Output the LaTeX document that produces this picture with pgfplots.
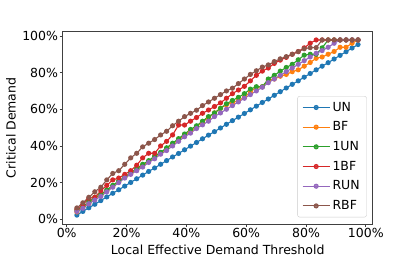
\documentclass[border=0pt]{standalone}
\usepackage{pgfplots}
\pgfplotsset{compat=1.18}
\usepackage{pgfplotstable}
\usepackage{fontspec}
\setmainfont{DejaVu Sans}
\definecolor{cA}{HTML}{1F77B4}
\definecolor{cB}{HTML}{FF7F0E}
\definecolor{cC}{HTML}{2CA02C}
\definecolor{cD}{HTML}{D62728}
\definecolor{cE}{HTML}{9467BD}
\definecolor{cF}{HTML}{8C564B}
\pgfplotstableread{
x    UN   BF   UNa  BFa  RUN  RBF
3.4  2.3  4.0  5.0  5.5  4.3  6.2
5.4  4.3  6.5  7.0  8.0  6.0  9.0
7.4  6.3  8.5  9.5  11.5 8.5  12.0
9.4  8.2  12.0 12.0 12.0 10.5 15.0
11.4 10.2 13.0 13.5 15.5 12.5 17.5
13.4 12.2 15.5 16.0 18.5 15.0 21.5
15.4 14.2 18.0 18.5 21.5 17.5 25.0
17.4 16.1 20.5 21.0 22.5 20.0 26.5
19.4 18.1 23.0 23.0 24.5 22.5 30.0
21.4 20.1 25.0 25.5 26.5 24.5 33.5
23.4 22.1 27.0 27.5 29.5 26.5 36.0
25.4 24.1 29.5 30.0 33.5 28.5 39.5
27.4 26.1 31.5 32.0 36.0 31.0 41.5
29.4 28.0 34.0 34.5 36.0 33.0 43.5
31.4 30.0 36.0 36.5 40.0 35.5 46.0
33.4 32.0 38.5 39.0 42.5 37.5 48.0
35.4 34.0 41.0 41.5 46.0 40.0 51.0
37.4 35.9 43.5 44.0 51.4 42.5 53.5
39.4 37.9 46.0 46.5 51.4 45.0 56.0
41.4 39.9 48.0 49.0 53.5 47.0 57.8
43.4 41.9 50.5 51.0 55.5 49.5 59.5
45.4 43.9 53.0 53.5 57.8 51.5 62.0
47.4 45.9 55.5 56.0 59.6 53.5 64.0
49.4 47.8 58.0 58.0 61.5 56.0 66.0
51.4 49.8 60.5 60.5 63.5 58.0 68.0
53.4 51.8 62.5 63.0 66.0 60.0 70.0
55.4 53.8 63.5 64.8 68.5 62.0 71.5
57.4 55.7 64.8 66.5 70.5 64.0 74.0
59.4 57.7 66.5 68.5 72.5 66.0 76.5
61.4 59.7 69.5 71.0 75.5 68.0 79.0
63.4 61.7 72.0 72.3 78.5 70.0 81.0
65.4 63.7 72.3 72.3 80.8 72.0 83.0
67.4 65.6 76.0 76.5 82.5 74.5 84.2
69.4 67.6 76.5 78.5 85.0 76.5 86.0
71.4 69.6 78.0 80.8 86.8 78.5 87.5
73.4 71.6 79.0 82.8 88.3 80.5 88.7
75.4 73.6 80.5 84.5 90.0 82.5 90.0
77.4 75.5 81.5 87.0 91.5 84.5 91.4
79.4 77.5 83.5 89.5 93.5 86.5 93.0
81.4 79.5 85.5 90.0 96.0 88.5 93.6
83.4 81.5 87.8 90.0 97.8 90.5 93.6
85.4 83.5 88.5 93.5 97.8 92.0 97.8
87.4 85.4 90.0 97.8 97.8 93.8 97.8
89.4 87.4 91.5 97.8 97.8 96.0 97.8
91.4 89.4 93.8 97.8 97.8 97.8 97.8
93.4 91.4 93.8 97.8 97.8 97.8 97.8
95.4 93.4 96.0 97.8 97.8 97.8 97.8
97.4 95.3 97.8 97.8 97.8 97.8 97.8
}\data
\begin{document}
\fontsize{12.5bp}{14bp}\selectfont
\begin{tikzpicture}
\path[use as bounding box] (-62.7bp,-40bp) rectangle (352.3bp,224bp);
\begin{axis}[
  at={(0,0)}, anchor=south west,
  width=310bp, height=192.3bp, scale only axis,
  xmin=-1.34, xmax=102.3, ymin=-2.56, ymax=102.3,
  xtick={0,20,...,100}, ytick={0,20,...,100},
  xticklabel={\pgfmathprintnumber{\tick}\%},
  yticklabel={\pgfmathprintnumber{\tick}\%},
  /pgf/number format/assume math mode=true,
  ticklabel style={font=\fontsize{12.5bp}{14bp}\selectfont, inner sep=1.5bp},
  xtick pos=bottom, ytick pos=left,
  tick align=outside, major tick length=3bp,
  every tick/.style={black!75, line width=0.8bp},
  axis line style={black!75, line width=0.8bp},
  xlabel={Local Effective Demand Threshold},
  ylabel={Critical Demand},
  every axis x label/.style={at={(axis description cs:0.5,-0.135)}, anchor=center},
  every axis y label/.style={at={(axis description cs:-0.167,0.5)}, anchor=center, rotate=90},
  label style={font=\fontsize{12.5bp}{14bp}\selectfont},
  every axis plot/.append style={line width=1.1bp, mark=*, mark size=2bp},
  legend cell align=left,
  legend image code/.code={\draw[mark repeat=2,mark phase=2] plot coordinates {(0bp,0bp)(13.5bp,0bp)(27bp,0bp)};},
  legend style={at={(1,0)}, anchor=south east, xshift=-6bp, yshift=6.7bp,
    draw=black!20, rounded corners=2bp, fill=white, fill opacity=0.8, text opacity=1,
    font=\fontsize{12.5bp}{14bp}\selectfont, row sep=0.3bp, inner xsep=4.5bp, inner ysep=1.5bp,
    nodes={inner xsep=2.3bp, inner ysep=4.2bp},
    /tikz/every even column/.append style={column sep=4bp}},
]
\addplot[cA, mark options={fill=cA}] table[x=x,y=UN] {\data};
\addlegendentry{UN}
\addplot[cB, mark options={fill=cB}] table[x=x,y=BF] {\data};
\addlegendentry{BF}
\addplot[cC, mark options={fill=cC}] table[x=x,y=UNa] {\data};
\addlegendentry{1UN}
\addplot[cD, mark options={fill=cD}] table[x=x,y=BFa] {\data};
\addlegendentry{1BF}
\addplot[cE, mark options={fill=cE}] table[x=x,y=RUN] {\data};
\addlegendentry{RUN}
\addplot[cF, mark options={fill=cF}] table[x=x,y=RBF] {\data};
\addlegendentry{RBF}
\end{axis}
\end{tikzpicture}
\end{document}
